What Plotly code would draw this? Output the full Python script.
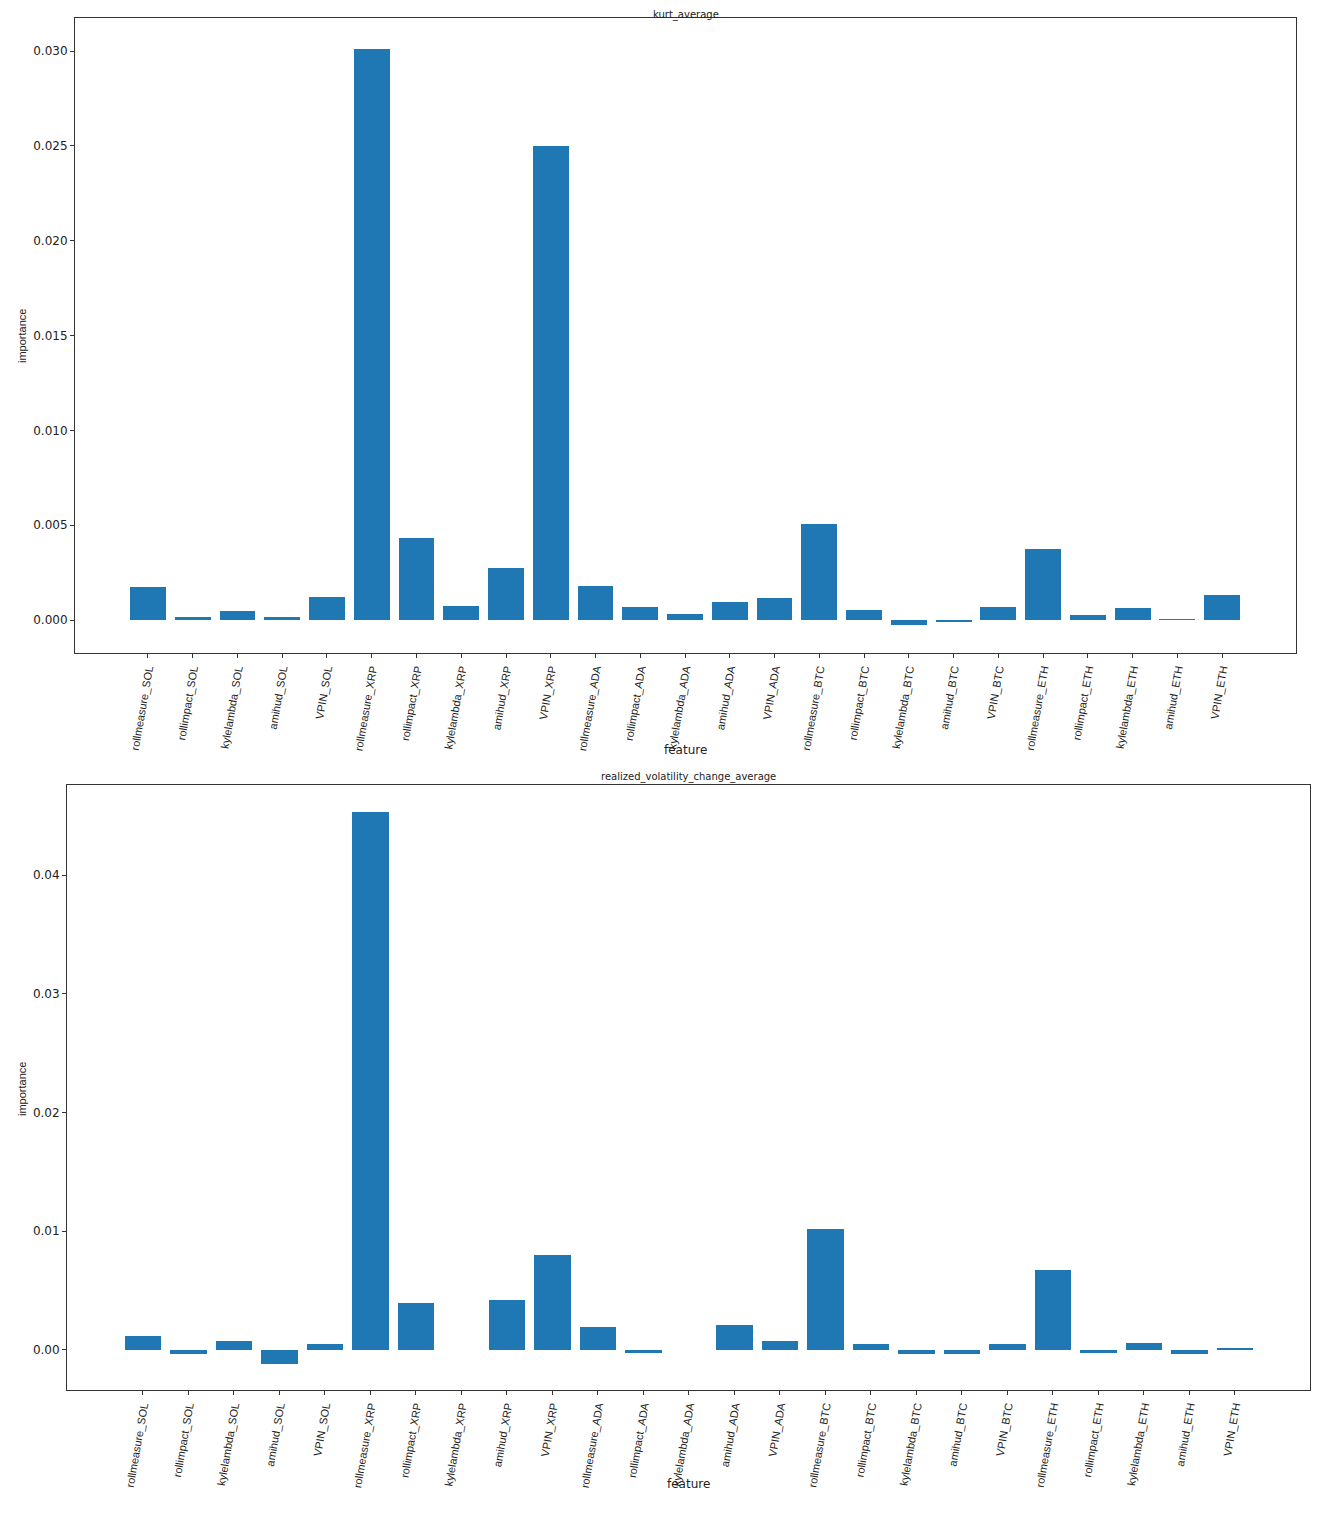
import plotly.graph_objects as go

features = [
    "rollmeasure_SOL", "rollimpact_SOL", "kylelambda_SOL", "amihud_SOL", "VPIN_SOL",
    "rollmeasure_XRP", "rollimpact_XRP", "kylelambda_XRP", "amihud_XRP", "VPIN_XRP",
    "rollmeasure_ADA", "rollimpact_ADA", "kylelambda_ADA", "amihud_ADA", "VPIN_ADA",
    "rollmeasure_BTC", "rollimpact_BTC", "kylelambda_BTC", "amihud_BTC", "VPIN_BTC",
    "rollmeasure_ETH", "rollimpact_ETH", "kylelambda_ETH", "amihud_ETH", "VPIN_ETH",
]

kurt_average = [
    0.00174, 0.00016, 0.00047, 0.00015, 0.00120,
    0.03010, 0.00430, 0.00074, 0.00274, 0.02500,
    0.00179, 0.00068, 0.00032, 0.00095, 0.00116,
    0.00505, 0.00053, -0.00026, -0.00013, 0.00068,
    0.00374, 0.00028, 0.00062, 0.00003, 0.00131,
]

realized_volatility_change_average = [
    0.00118, -0.00034, 0.00076, -0.00118, 0.00050,
    0.04530, 0.00396, 0.0, 0.00420, 0.00800,
    0.00190, -0.00025, 0.0, 0.00210, 0.00076,
    0.01020, 0.00050, -0.00030, -0.00030, 0.00050,
    0.00670, -0.00025, 0.00060, -0.00030, 0.00010,
]

# the page body has an 8px margin, so the figure is sized and placed to fit inside it
OFF = 8
W, H = 1321 - 2 * OFF, 1529 - 2 * OFF
BAR = "#1f77b4"
TICK_FONT = {"family": "DejaVu Sans", "size": 12, "color": "#222222"}
SMALL_FONT = {"family": "DejaVu Sans", "size": 10, "color": "#222222"}
LABEL_FONT = {"family": "Liberation Sans, Arial, sans-serif", "size": 11, "color": "#222222"}


def px(x):
    return (x - OFF) / W


def py(y):
    return 1 - (y - OFF) / H


positions = list(range(len(features)))

fig = go.Figure()
fig.add_trace(go.Bar(x=positions, y=kurt_average, width=0.8, marker={"color": BAR, "line": {"width": 0}},
                     xaxis="x", yaxis="y", showlegend=False))
fig.add_trace(go.Bar(x=positions, y=realized_volatility_change_average, width=0.8,
                     marker={"color": BAR, "line": {"width": 0}},
                     xaxis="x2", yaxis="y2", showlegend=False))

xcommon = dict(
    tickmode="array", tickvals=positions, ticktext=features, tickangle=-80,
    tickfont=LABEL_FONT, ticks="outside", ticklen=4, tickcolor="#333333",
    showline=True, linecolor="#333333", linewidth=1, mirror=True,
    showgrid=False, zeroline=False,
)
ycommon = dict(
    tickfont=TICK_FONT, ticks="outside", ticklen=4, tickcolor="#333333",
    showline=True, linecolor="#333333", linewidth=1, mirror=True,
    showgrid=False, zeroline=False,
)

fig.update_layout(
    width=W, height=H,
    margin={"l": 0, "r": 0, "t": 0, "b": 0},
    paper_bgcolor="white", plot_bgcolor="white",
    bargap=0,
    xaxis=dict(xcommon, domain=[px(75), px(1296)], range=[-1.63, 25.65], anchor="y"),
    yaxis=dict(ycommon, domain=[py(653), py(18)], range=[-0.00174, 0.03174],
               tickvals=[0, 0.005, 0.01, 0.015, 0.02, 0.025, 0.03], tickformat=".3f", anchor="x"),
    xaxis2=dict(xcommon, domain=[px(67), px(1310)], range=[-1.67, 25.65], anchor="y2"),
    yaxis2=dict(ycommon, domain=[py(1390), py(785)], range=[-0.00337, 0.04758],
                tickvals=[0, 0.01, 0.02, 0.03, 0.04], tickformat=".2f", anchor="x2"),
)

annotations = [
    ("kurt_average", px((75 + 1296) / 2), 1.0, 0, SMALL_FONT, "top"),
    ("realized_volatility_change_average", px((67 + 1310) / 2), py(777), 0, SMALL_FONT, "middle"),
    ("feature", px((75 + 1296) / 2), py(750), 0, TICK_FONT, "middle"),
    ("feature", px((67 + 1310) / 2), py(1484), 0, TICK_FONT, "middle"),
    ("importance", px(22), py(336), -90, LABEL_FONT, "middle"),
    ("importance", px(22), py(1089), -90, LABEL_FONT, "middle"),
]
for text, x, y, angle, font, yanchor in annotations:
    fig.add_annotation(text=text, x=x, y=y, xref="paper", yref="paper", showarrow=False,
                       textangle=angle, font=font, xanchor="center", yanchor=yanchor, borderpad=0)

fig.write_html("out.html")
